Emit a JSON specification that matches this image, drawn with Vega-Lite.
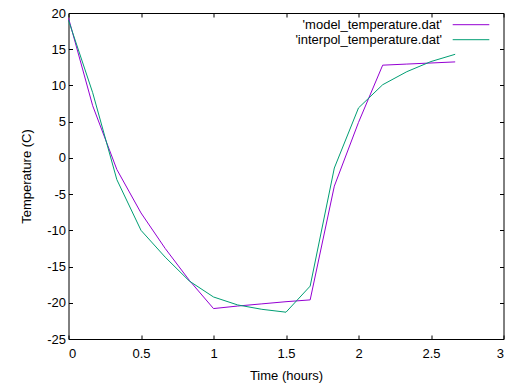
{
  "$schema": "https://vega.github.io/schema/vega-lite/v6.json",
  "width": 435,
  "height": 326,
  "autosize": "none",
  "padding": {"left": 68.5, "top": 13, "right": 1.5, "bottom": 46},
  "background": "white",
  "config": {
    "view": {"stroke": "#000", "strokeWidth": 1},
    "font": "Liberation Sans",
    "axis": {"grid": false, "domain": false, "ticks": true, "zindex": 1, "tickColor": "#000", "tickOpacity": 1, "tickWidth": 1, "tickSize": 4, "offset": -4, "labelFont": "Liberation Sans", "labelFontSize": 13, "labelColor": "#000", "titleFont": "Liberation Sans", "titleFontSize": 13, "titleFontWeight": "normal", "titleColor": "#000"}
  },
  "data": {"values": [
    {"series": "'model_temperature.dat'", "t": 0, "temp": 19.3},
    {"series": "'model_temperature.dat'", "t": 0.1667, "temp": 7.2},
    {"series": "'model_temperature.dat'", "t": 0.3333, "temp": -1.6},
    {"series": "'model_temperature.dat'", "t": 0.5, "temp": -7.6},
    {"series": "'model_temperature.dat'", "t": 0.6667, "temp": -12.5},
    {"series": "'model_temperature.dat'", "t": 0.8333, "temp": -16.9},
    {"series": "'model_temperature.dat'", "t": 1.0, "temp": -20.8},
    {"series": "'model_temperature.dat'", "t": 1.1667, "temp": -20.45},
    {"series": "'model_temperature.dat'", "t": 1.3333, "temp": -20.15},
    {"series": "'model_temperature.dat'", "t": 1.5, "temp": -19.85},
    {"series": "'model_temperature.dat'", "t": 1.6667, "temp": -19.6},
    {"series": "'model_temperature.dat'", "t": 1.8333, "temp": -3.9},
    {"series": "'model_temperature.dat'", "t": 2.0, "temp": 4.9},
    {"series": "'model_temperature.dat'", "t": 2.1667, "temp": 12.8},
    {"series": "'model_temperature.dat'", "t": 2.3333, "temp": 12.95},
    {"series": "'model_temperature.dat'", "t": 2.5, "temp": 13.1},
    {"series": "'model_temperature.dat'", "t": 2.6667, "temp": 13.25},
    {"series": "'interpol_temperature.dat'", "t": 0, "temp": 19.0},
    {"series": "'interpol_temperature.dat'", "t": 0.1667, "temp": 9.0},
    {"series": "'interpol_temperature.dat'", "t": 0.3333, "temp": -3.0},
    {"series": "'interpol_temperature.dat'", "t": 0.5, "temp": -10.0},
    {"series": "'interpol_temperature.dat'", "t": 0.6667, "temp": -13.7},
    {"series": "'interpol_temperature.dat'", "t": 0.8333, "temp": -17.0},
    {"series": "'interpol_temperature.dat'", "t": 1.0, "temp": -19.2},
    {"series": "'interpol_temperature.dat'", "t": 1.1667, "temp": -20.3},
    {"series": "'interpol_temperature.dat'", "t": 1.3333, "temp": -20.9},
    {"series": "'interpol_temperature.dat'", "t": 1.5, "temp": -21.3},
    {"series": "'interpol_temperature.dat'", "t": 1.6667, "temp": -17.7},
    {"series": "'interpol_temperature.dat'", "t": 1.8333, "temp": -1.4},
    {"series": "'interpol_temperature.dat'", "t": 2.0, "temp": 6.9},
    {"series": "'interpol_temperature.dat'", "t": 2.1667, "temp": 10.1},
    {"series": "'interpol_temperature.dat'", "t": 2.3333, "temp": 11.9},
    {"series": "'interpol_temperature.dat'", "t": 2.5, "temp": 13.3},
    {"series": "'interpol_temperature.dat'", "t": 2.6667, "temp": 14.3}
  ]},
  "layer": [
    {
      "mark": {"type": "line", "strokeWidth": 1},
      "encoding": {
        "x": {"field": "t", "type": "quantitative", "scale": {"domain": [0, 3], "nice": false, "zero": false},
          "axis": {"orient": "bottom", "values": [0, 0.5, 1, 1.5, 2, 2.5, 3], "labelExpr": "'' + datum.value", "labelPadding": 8, "title": "Time (hours)", "titleY": 40, "titleBaseline": "middle"}},
        "y": {"field": "temp", "type": "quantitative", "scale": {"domain": [-25, 20], "nice": false, "zero": false},
          "axis": {"orient": "left", "values": [-25, -20, -15, -10, -5, 0, 5, 10, 15, 20], "labelExpr": "'' + datum.value", "labelPadding": 3, "title": "Temperature (C)", "titleX": -46, "titleY": 163, "titleAngle": -90, "titleAlign": "center", "titleBaseline": "middle"}},
        "color": {"field": "series", "type": "nominal", "sort": ["'model_temperature.dat'", "'interpol_temperature.dat'"],
          "scale": {"domain": ["'model_temperature.dat'", "'interpol_temperature.dat'"], "range": ["#9400D3", "#009E73"]},
          "legend": {"orient": "none", "legendX": 395.5, "legendY": 4.7, "title": null, "symbolType": "M-3,0H3", "symbolSize": 149, "symbolStrokeWidth": 1, "labelAlign": "right", "labelOffset": -36, "labelFontSize": 13, "labelFont": "Liberation Sans", "labelColor": "#000", "rowPadding": 1, "padding": 0}}
      }
    },
    {
      "mark": {"type": "point", "opacity": 0},
      "encoding": {
        "x": {"field": "t", "type": "quantitative", "scale": {"domain": [0, 3], "nice": false, "zero": false},
          "axis": {"orient": "top", "values": [0, 0.5, 1, 1.5, 2, 2.5, 3], "labels": false, "title": null}},
        "y": {"field": "temp", "type": "quantitative", "scale": {"domain": [-25, 20], "nice": false, "zero": false},
          "axis": {"orient": "right", "values": [-25, -20, -15, -10, -5, 0, 5, 10, 15, 20], "labels": false, "title": null}}
      }
    }
  ],
  "resolve": {"axis": {"x": "independent", "y": "independent"}}
}
